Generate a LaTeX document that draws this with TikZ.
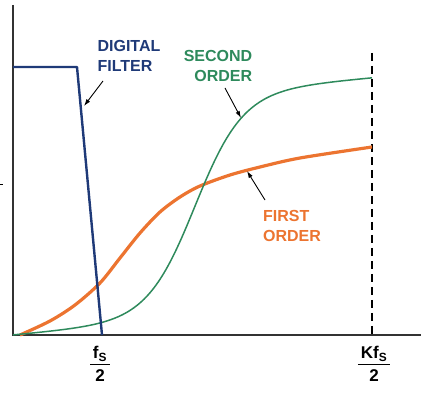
\documentclass[tikz,border=0pt]{standalone}
\usepackage{fontspec}
\setmainfont{Liberation Sans}
\usetikzlibrary{arrows.meta}
\pgfdeclarelayer{bg}
\pgfsetlayers{bg,main}
\definecolor{filterblue}{HTML}{1F3A78}
\definecolor{secondgreen}{HTML}{2E8A5C}
\definecolor{firstorange}{HTML}{EC7430}
\newcommand{\halfof}[1]{\begin{tabular}{@{\,}c@{\,}}#1\\[0pt]\hline\noalign{\vskip4pt}2\end{tabular}}

\begin{document}
\begin{tikzpicture}[x=1pt,y=-1pt,
        lbl/.style={font=\fontsize{16}{20}\selectfont\bfseries, inner sep=0pt},
        tick/.style={font=\fontsize{17}{18}\selectfont\bfseries, inner sep=0pt, anchor=north},
        pointer/.style={line width=0.9pt, -{Latex[length=7pt,width=4.5pt]}}]
        \useasboundingbox (0,0) rectangle (421,393);
        \coordinate (o) at (13,335);
        \coordinate (ytop) at (13,5);
        \coordinate (xend) at (421,335);
        \coordinate (k0) at (372,53);
        \coordinate (k1) at (372,335);
        \coordinate (f0) at (13,67);
        \coordinate (f1) at (77,67);
        \coordinate (f2) at (102,335);
        \coordinate (s0) at (103,81);
        \coordinate (s1) at (225,88);
        \coordinate (s2) at (265,200);
        \coordinate (a0) at (84,106);
        \coordinate (a1) at (241,118);
        \coordinate (a2) at (247,171);
        \node (t0) [lbl, text=filterblue, align=left] at (129,56) {DIGITAL\\FILTER};
        \node (t1) [lbl, text=secondgreen, align=right] at (218,66) {SECOND\\ORDER};
        \node (t2) [lbl, text=firstorange, align=left] at (292,226) {FIRST\\ORDER};
        \node (t3) [tick] at (100,346) {\halfof{f\textsubscript{S}}};
        \node (t4) [tick] at (374,346) {\halfof{Kf\textsubscript{S}}};
        \begin{pgfonlayer}{bg}
                \draw [line width=1.6pt, color=black!80] (ytop) -- (o) -- (xend);
                \draw [line width=1pt] (0,185) -- (3,185);
                \draw (k0) edge [line width=1.4pt, dash pattern=on 8pt off 5pt] (k1);
                \draw [line width=3.2pt, color=firstorange] plot [smooth] coordinates
                        {(20,335) (50,321) (75,305) (100,283) (120,258) (140,233) (160,212) (180,197) (200,186) (230,175) (260,167) (300,158) (372,147)};
                \draw [line width=1.5pt, color=secondgreen] plot [domain=13:372, samples=90, smooth]
                        (\x, {335-225/(1+exp(-(\x-195)/24))-0.09*(\x-13)});
                \draw [line width=2.4pt, color=filterblue, line join=round] (f0) -- (f1) -- (f2);
        \end{pgfonlayer}
        \draw (s0) edge [pointer] (a0);
        \draw (s1) edge [pointer] (a1);
        \draw (s2) edge [pointer] (a2);
\end{tikzpicture}
\end{document}
